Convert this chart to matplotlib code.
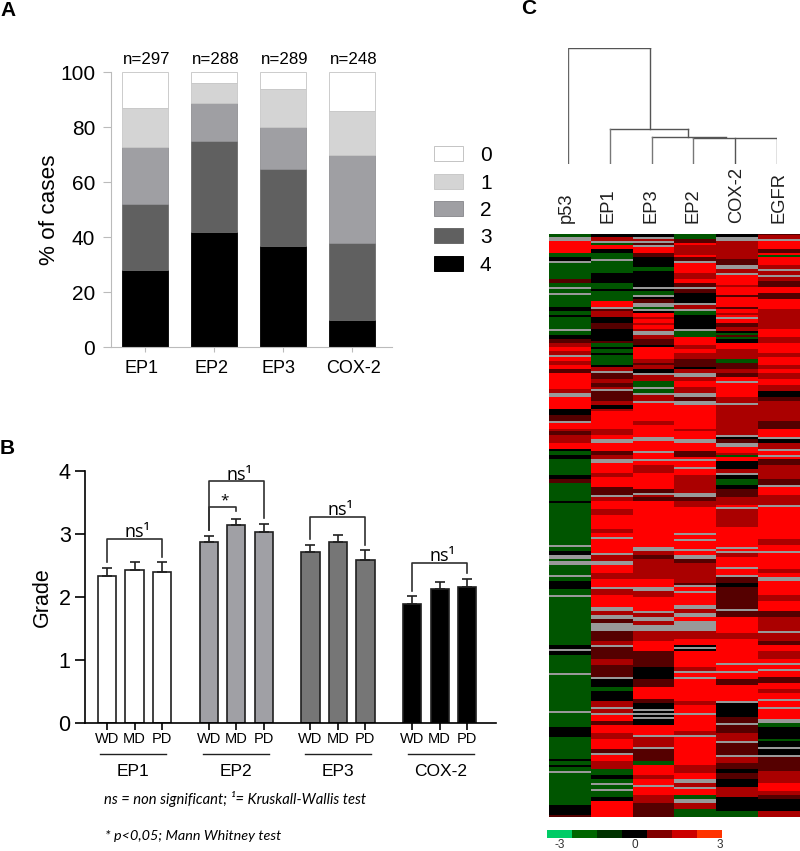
import numpy as np
import matplotlib
matplotlib.use('Agg')
import matplotlib.pyplot as plt
from matplotlib.colors import ListedColormap
from matplotlib.patches import Patch
from matplotlib.transforms import ScaledTranslation

plt.rcParams['font.family'] = ['Liberation Sans', 'DejaVu Sans']

W, H = 800, 851

# panel A
stack_names = ['EP1', 'EP2', 'EP3', 'COX-2']
stack_n = ['n=297', 'n=288', 'n=289', 'n=248']
grade4 = [28, 42, 37, 10]
grade3 = [24, 33, 28, 28]
grade2 = [21, 14, 15, 32]
grade1 = [14, 7, 14, 16]
grade0 = [13, 4, 6, 14]
stack_colors = ['black', '#606060', '#9f9fa3', '#d4d4d4', 'white']
stack_edges = ['black', '#6a6a6a', '#909094', '#c8c8c8', '#c4c4c4']

# panel B
bar_groups = ['EP1', 'EP2', 'EP3', 'COX-2']
bar_ticks = ['WD', 'MD', 'PD']
bar_values = [[2.33, 2.42, 2.39], [2.87, 3.14, 3.03], [2.72, 2.87, 2.59], [1.89, 2.12, 2.15]]
bar_errors = [[0.13, 0.13, 0.16], [0.10, 0.10, 0.13], [0.11, 0.11, 0.16], [0.12, 0.12, 0.14]]
bar_colors = ['white', '#a0a0a5', '#767676', 'black']
# group, first bar, last bar, top, left end, right end, label
brackets = [
    (0, 0, 2, 2.92, 2.56, 2.64, 'ns¹'),
    (1, 0, 2, 3.84, 3.07, 3.26, 'ns¹'),
    (1, 0, 1, 3.43, 3.07, 3.37, '*'),
    (2, 0, 2, 3.27, 2.92, 2.82, 'ns¹'),
    (3, 0, 2, 2.54, 2.10, 2.38, 'ns¹'),
]

# panel C, heatmap columns as runs, three stretches down the map
# G green, K black, D dark red, M mid red, R red, N no data
heat_names = ['p53', 'EP1', 'EP3', 'EP2', 'COX-2', 'EGFR']
heat_sections = [98, 100, 94]
p53_runs = [
    'G2 N2 R6 G2 K2 N1 G8 D2 G2 N1 G2 N1 G6 K2 G2 K1 G6 N1 G2 K2 D2 M2 R2 M2 N1 R2 M2 R2 D2 R8 M2 N2 R6 K3 D3 N1 R3',
    'M1 D2 M4 R3 K1 G2 K2 G8 K2 D2 G9 K1 G21 N1 G2 K2 N2 G1 N2 G5 N1 G2 K4 G3 N1 G17',
    'G8 K2 N1 K2 G9 N1 G18 N1 G7 K5 G11 K1 G2 K1 G2 N1 G16 K5 D1',
]
ep1_runs = [
    'K2 M2 N1 G1 R2 K2 G3 N1 G6 K5 G3 K1 G5 R3 N1 D1 M3 K3 D3 K6 D1 G2 K1 G2 K1 G5 K1 M2 N1 D3 M2 D2 M1 N1 D5 M2 K2 M1 R8',
    'M3 R2 N2 R4 D2 M2 N2 R5 M2 R5 D4 N1 M2 R4 M3 R7 M2 R2 N1 R7 N1 M3 N2 R4 M3 R4 N1 M3 R6 N2 M2 N2 D2 N2',
    'N1 D5 M2 N1 D6 M3 D6 N1 K4 G2 K5 M3 N1 M2 N1 R3 D2 R4 M3 R5 D2 N1 R3 M4 G3 K2 G2 N1 G2 N1 G3 K2 R5',
]
ep3_runs = [
    'K2 N1 M1 N1 D1 N1 R3 D2 K5 G2 K8 N1 K1 G2 N1 K1 D2 N2 G1 N1 K1 R2 M1 R2 M1 R2 M1 N2 M2 D3 K1 R6 M2 D1 M2 K2 N1 M3 G3 N1 G2 N1 M3 N1 R5 R4 M2 R2',
    'R4 N2 R5 N1 R3 N1 R2 M4 R8 D2 N1 M1 D2 R23 N2 M2 D2 M10 R4 N2 M3 R7 N1 M2 N2 M2 N2',
    'N1 M5 R5 D8 K6 D4 R6 D2 K3 N1 K1 N1 K1 N1 K3 R5 N1 M5 N1 D6 G2 R5 M2 R3 N1 R4 M4 D2',
]
ep2_runs = [
    'G3 D2 R1 M5 R1 D2 N1 R5 M3 R2 D2 N1 D2 K5 N1 M2 N1 G2 K7 N1 G3 R4 M2 R2 M3 D4 K1 M2 N2 M2 R3 M3 N2 D2 N2 R13',
    'M1 R4 N2 R4 D3 R1 N1 R3 N1 R3 M9 N2 D2 M3 R13 N1 R2 N1 R4 N1 R2 N2 D2 M10 D1 N1 R2 N1 R6 N2 M2 N2 R2 N2',
    'N1 M4 R3 K1 N1 K1 R8 M2 N1 R2 N1 R11 M2 R4 N1 R8 M2 N1 R14 M4 R3 N2 M2 N1 R3 G2 N2 M3 G1',
]
cox2_runs = [
    'K2 N2 M9 D3 N2 M2 N1 R5 M1 R4 D1 R5 D1 R2 M1 R1 N1 R2 D2 M2 K1 G1 D1 G1 K2 R3 M5 G2 D3 M2 D2 R2 N1 R7 M3 N1 M8',
    'M3 N1 K1 D2 N2 R3 M1 G1 R2 K4 M2 N1 K2 G3 K2 D4 M4 R1 N1 M9 R10 N1 R1 N1 M2 R5 N1 R3 N1 D3 K2 D11 N1 D3 R3',
    'R2 M3 R12 N1 R3 N1 R3 D3 R8 N1 K7 D3 N1 D4 M4 N1 D6 N1 M3 D3 K2 D3 K4 M5 K7 G1',
]
egfr_runs = [
    'D1 M2 N1 R4 D2 R1 G1 R4 M2 N1 M2 N1 M2 D3 R3 D3 R5 M10 R4 M3 R5 M2 R4 M2 R2 M3 R3 M3 K3 D2 M10 D5 R3',
    'R4 N1 K2 M3 N1 R2 N1 R1 D3 M7 D3 N1 R4 M5 N1 R16 M3 R3 N1 R8 M2 R2 N2 R7 M3 R5 D3 M4',
    'M1 N1 M4 D2 R3 M4 R2 N1 R2 N1 R3 D3 R3 M2 R3 N1 R3 N1 R5 N2 G2 K6 G1 K3 N1 K3 N1 D7 M6 R4 M2 D2 K6 M1',
]
heat_codes = {'G': 0, 'K': 1, 'D': 2, 'M': 3, 'R': 4, 'N': np.nan}
heat_colors = ['#005500', 'black', '#550000', '#aa0000', '#ff0000']
scale_colors = ['#00cc66', '#006600', '#003300', 'black', '#800000', '#cc0000', '#ff3300']

# dendrogram: left, right, height of each link, leaves in heat_names order
link_left = [3, 2, 1, 0]
link_right = [5, 3.77, 2.87, 1.95]
link_height = [26, 27, 35, 116]


def px_axes(x0, y0, x1, y1):
    # pixel box, y counted from the top
    return fig.add_axes([x0 / W, 1 - y1 / H, (x1 - x0) / W, (y1 - y0) / H])


def px_text(x, y, s, **kw):
    kw.setdefault('ha', 'center')
    kw.setdefault('va', 'center')
    fig.text(x / W, 1 - y / H, s, **kw)


def expand_runs(sections):
    # fit each stretch to its row count so an error does not carry on down
    out = []
    for runs, n in zip(sections, heat_sections):
        col = []
        for run in runs.split():
            col += [heat_codes[run[0]]] * int(run[1:])
        col = (col + col[-1:] * n)[:n]
        out += col
    return out


fig = plt.figure(figsize=(W / 100, H / 100), dpi=100)

# A
ax = px_axes(111, 72.3, 392, 347.3)
x = np.arange(4)
bottom = np.zeros(4)
series = [grade4, grade3, grade2, grade1, grade0]
for vals, c, e in zip(series, stack_colors, stack_edges):
    ax.bar(x, vals, width=0.66, bottom=bottom, color=c, edgecolor=e, linewidth=0.6)
    bottom += np.array(vals)
ax.set_xlim(-0.493, 3.58)
ax.set_ylim(0, 100)
ax.set_xticks(x)
ax.set_xticklabels(stack_names, fontsize=13)
ax.set_yticks(range(0, 101, 20))
ax.tick_params(axis='y', labelsize=15, width=0.8, length=5.5, pad=6, color='#bbbbbb')
ax.tick_params(axis='x', width=0.8, length=3.5, pad=6, color='#bbbbbb')
ax.spines['top'].set_visible(False)
ax.spines['right'].set_visible(False)
ax.spines['left'].set_linewidth(0.8)
ax.spines['bottom'].set_linewidth(0.8)
ax.spines['left'].set_color('#bbbbbb')
ax.spines['bottom'].set_color('#bbbbbb')
ax.set_ylabel('% of cases', fontsize=16.2, labelpad=0)
# the tick labels sit a little off the bar centres in the picture
for lab, dx in zip(ax.get_xticklabels(), [-4, -3, -4, 2]):
    lab.set_transform(lab.get_transform() + ScaledTranslation(dx / 100, 0, fig.dpi_scale_trans))
for i, s in enumerate(stack_n):
    ax.text(i + 0.02, 100 + 4.5, s, ha='center', va='center', fontsize=12.2)
handles = [Patch(facecolor=c, edgecolor=e, linewidth=0.7) for c, e in zip(stack_colors[::-1], stack_edges[::-1])]
fig.legend(handles, ['0', '1', '2', '3', '4'], loc='upper left',
           bbox_to_anchor=(417 / W, 1 - 129.5 / H), frameon=False, fontsize=15,
           handlelength=1.4, handleheight=0.74, labelspacing=0.4, handletextpad=0.82,
           borderpad=0.3)

# B
ax = px_axes(84.5, 471, 496, 722.7)
tick_pos = []
tick_lab = []
for g in range(4):
    pos = g * 3.7 + np.arange(3)
    tick_pos += list(pos)
    tick_lab += bar_ticks
    ax.bar(pos, bar_values[g], width=0.66, color=bar_colors[g], edgecolor='#202020', linewidth=1.2)
    ax.errorbar(pos, bar_values[g], yerr=[[0, 0, 0], bar_errors[g]], fmt='none',
                ecolor='#202020', elinewidth=1.2, capsize=3.6, capthick=1.2)
ax.set_xlim(-0.82, 14.15)
ax.set_ylim(0, 4)
ax.set_xticks(tick_pos)
ax.set_xticklabels(tick_lab, fontsize=10.5)
ax.set_yticks(range(5))
ax.tick_params(axis='y', labelsize=15.5, width=1.2, length=7, pad=3)
ax.tick_params(axis='x', width=1.2, length=5, pad=2)
ax.spines['top'].set_visible(False)
ax.spines['right'].set_visible(False)
ax.spines['left'].set_linewidth(1.2)
ax.spines['bottom'].set_linewidth(1.2)
ax.set_ylabel('Grade', fontsize=15.5, labelpad=4)
for g, i0, i1, top, yl, yr, lab in brackets:
    x0 = g * 3.7 + i0
    x1 = g * 3.7 + i1
    ax.plot([x0, x0, x1, x1], [yl, top, top, yr], color='#303030', lw=1.2, clip_on=False)
    if lab == '*':
        ax.text((x0 + x1) / 2 + 0.08, top - 0.03, lab, ha='center', va='bottom', fontsize=11,
                family=['Open Sans', 'DejaVu Sans'], clip_on=False)
    else:
        ax.text((x0 + x1) / 2 + 0.1, top - 0.04, lab, ha='center', va='bottom', fontsize=13,
                family=['Open Sans', 'DejaVu Sans'], clip_on=False)
for g, name in enumerate(bar_groups):
    x0 = 100 + g * 102.6
    fig.add_artist(plt.Line2D([x0 / W, (x0 + 66) / W], [1 - 753.5 / H] * 2, color='#202020', lw=1))
    px_text(x0 + 33, 771, name, fontsize=12.5)

foot = ['Lato', 'Open Sans', 'DejaVu Sans']
px_text(104, 799, 'ns = non significant; ¹= Kruskall-Wallis test', ha='left', fontsize=10.6,
        style='italic', family=foot)
px_text(105, 836, '* p<0,05; Mann Whitney test', ha='left', fontsize=10.4,
        style='italic', family=foot)

# C
ax = px_axes(568, 48, 776 + 1, 164)
for a, b, h in zip(link_left, link_right, link_height):
    ax.plot([a, b], [h, h], color='#555555', lw=1)
ax.plot([0, 0], [0, 116], color='#666666', lw=1)
ax.plot([1.95, 1.95], [35, 116], color='#555555', lw=1)
ax.plot([1, 1], [0, 35], color='#777777', lw=1)
ax.plot([2.87, 2.87], [27, 35], color='#555555', lw=1)
ax.plot([2, 2], [0, 27], color='#777777', lw=1)
ax.plot([3, 3], [0, 26], color='#777777', lw=1)
ax.plot([4, 4], [0, 26], color='#555555', lw=1)
ax.plot([5, 5], [0, 26], color='#666666', lw=1)
ax.set_xlim(0, 5)
ax.set_ylim(0, 116)
ax.axis('off')
for c, s in zip([566, 608, 651, 693, 737, 779], heat_names):
    px_text(c, 223, s, rotation=90, va='bottom', fontsize=13.2, color='#202020')

ax = px_axes(549, 234, 800, 817.5)
heat = np.array([expand_runs(r) for r in [p53_runs, ep1_runs, ep3_runs, ep2_runs, cox2_runs, egfr_runs]]).T
cmap = ListedColormap(heat_colors)
cmap.set_bad('#999999')
ax.imshow(heat, cmap=cmap, vmin=-0.5, vmax=4.5, aspect='auto', interpolation='nearest')
ax.axis('off')

ax = px_axes(547, 830, 722, 838)
ax.imshow(np.arange(7).reshape(1, 7), cmap=ListedColormap(scale_colors), aspect='auto',
          extent=[-3.5, 3.5, 0, 1])
ax.set_yticks([])
ax.set_xticks([-3, 0, 3.4])
ax.set_xticklabels(['-3', '0', '3'], fontsize=8.5, color='#303030')
ax.tick_params(axis='x', length=0, pad=0.5)
for s in ax.spines.values():
    s.set_visible(False)

# panel letters
px_text(0, 10, 'A', ha='left', fontsize=15, fontweight='bold')
px_text(0, 449, 'B', ha='left', fontsize=15, fontweight='bold')
px_text(521, 9, 'C', ha='left', fontsize=15, fontweight='bold')

fig.savefig('out.png', dpi=100)
